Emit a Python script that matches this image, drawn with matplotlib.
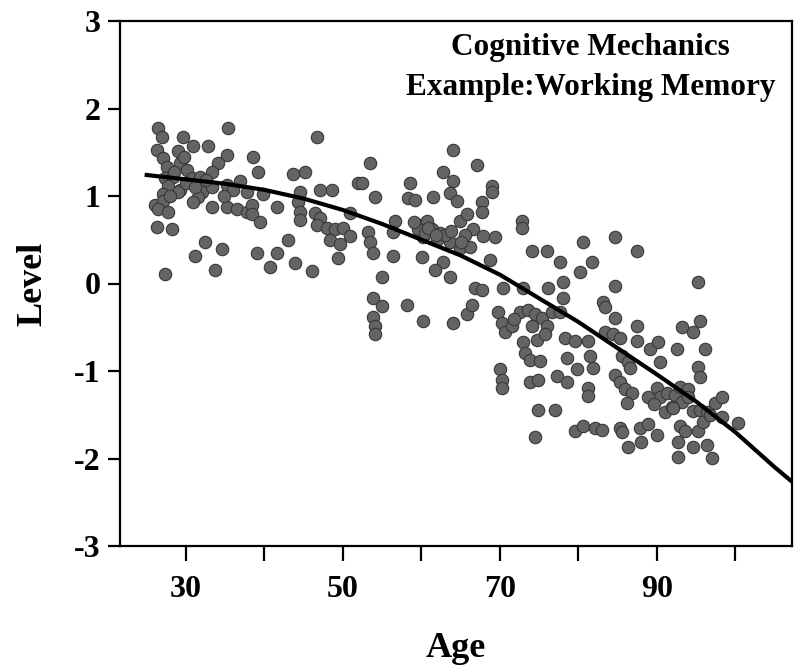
import numpy as np
import matplotlib
matplotlib.use("Agg")
from matplotlib import pyplot as plt

# scatter: age and level of each person
age = [
    26.4, 26.9, 29.6, 32.8, 35.4, 26.3, 27.1, 29.0, 30.9, 35.2, 27.6, 29.2, 30.1, 34.1, 33.3,
    27.3, 28.3, 30.8, 31.8, 35.2, 36.9, 37.8, 27.7, 29.2, 32.0, 33.3, 36.0, 27.1, 29.0, 31.5,
    26.1, 27.1, 30.9, 33.3, 35.2, 36.5, 37.8, 26.4, 27.7, 26.3, 28.2, 32.4, 34.6, 31.1, 33.7, 27.3,
    46.7, 38.5, 39.2, 43.6, 45.2, 51.9, 47.1, 48.6, 39.8, 44.5, 44.3, 38.4, 41.6, 44.5, 46.4,
    47.1, 44.5, 38.4, 50.9, 39.4, 46.7, 48.0, 49.0, 50.0, 50.9, 48.3, 49.6, 43.0, 39.0, 41.6,
    40.7, 43.9, 46.1, 49.4,
    64.0, 53.4, 67.1, 52.4, 58.5, 62.7, 64.0, 54.1, 58.3, 59.2, 61.5, 63.6, 64.5, 56.6, 56.4,
    59.8, 60.7, 61.3, 62.4, 60.2, 64.9, 65.8, 66.6, 63.6, 64.9, 66.2, 53.2, 53.4, 53.8, 56.4,
    60.1, 62.7, 61.7, 63.6, 55.0, 53.8, 55.0, 53.8, 54.1, 54.1, 58.2, 60.2, 64.0, 65.8, 66.8,
    66.4, 59.5, 60.5, 62.0, 63.0, 65.5,
    69.0, 69.0, 67.7, 67.7, 67.8, 69.4, 72.8, 72.8, 74.1, 76.0, 77.6, 80.6, 81.7, 68.7, 67.7,
    70.4, 72.9, 76.1, 78.0, 80.2, 78.0, 69.7, 70.3, 70.6, 71.5, 72.5, 73.6, 74.5, 75.4, 74.1,
    76.0, 76.6, 77.6, 72.9, 73.2, 73.8, 75.1, 74.7, 78.3, 79.6, 78.5, 79.8, 81.2, 81.5, 81.8,
    70.0, 70.3, 70.3, 73.8, 74.8, 77.3, 78.5, 81.2, 81.2, 74.8, 77.0, 74.5, 79.6, 80.6, 82.1,
    84.6, 87.5, 95.2, 84.6, 83.1, 83.4, 84.6, 87.5, 93.2, 94.6, 95.5, 83.4, 84.4, 85.3, 87.5,
    89.1, 90.1, 92.5, 96.1, 85.5, 86.3, 86.6, 90.4, 95.2, 95.5, 84.6, 85.3, 85.9, 86.8, 86.2,
    90.0, 90.4, 91.3, 92.3, 92.9, 93.9, 93.2, 91.0, 91.9, 94.6, 95.5, 96.4, 97.4, 98.3, 98.3,
    100.3, 83.0, 85.3, 85.5, 87.8, 88.8, 90.0, 88.0, 86.3, 92.9, 93.6, 95.2, 92.7, 94.6, 96.4,
    92.7, 97.0,
    28.5, 30.0, 31.2, 32.5, 29.8, 28.0, 34.8, 60.8, 61.8, 59.0, 63.8, 88.8, 89.6, 94.0, 95.8,
    96.8, 71.8, 75.8, 65.0, 92.0,
]
level = [
    1.78, 1.68, 1.68, 1.57, 1.78, 1.53, 1.44, 1.51, 1.57, 1.47, 1.33, 1.38, 1.30, 1.38, 1.28,
    1.21, 1.22, 1.21, 1.22, 1.13, 1.17, 1.05, 1.11, 1.07, 1.05, 1.10, 1.07, 1.02, 1.05, 0.99,
    0.90, 0.94, 0.93, 0.88, 0.87, 0.85, 0.82, 0.85, 0.82, 0.65, 0.62, 0.48, 0.39, 0.31, 0.16, 0.11,
    1.68, 1.45, 1.27, 1.25, 1.27, 1.15, 1.07, 1.07, 1.02, 1.05, 0.93, 0.90, 0.87, 0.82, 0.81,
    0.75, 0.73, 0.79, 0.81, 0.70, 0.67, 0.64, 0.62, 0.64, 0.54, 0.50, 0.45, 0.50, 0.35, 0.35,
    0.19, 0.24, 0.14, 0.29,
    1.53, 1.38, 1.36, 1.15, 1.15, 1.27, 1.17, 0.99, 0.98, 0.96, 0.99, 1.04, 0.94, 0.71, 0.59,
    0.67, 0.71, 0.62, 0.58, 0.53, 0.71, 0.79, 0.62, 0.47, 0.41, 0.42, 0.59, 0.47, 0.35, 0.31,
    0.30, 0.25, 0.16, 0.07, 0.07, -0.16, -0.26, -0.38, -0.49, -0.58, -0.24, -0.43, -0.45, -0.35, -0.05,
    -0.24, 0.62, 0.58, 0.50, 0.55, 0.55,
    1.11, 1.05, 0.93, 0.82, 0.54, 0.53, 0.71, 0.64, 0.37, 0.37, 0.25, 0.47, 0.25, 0.27, -0.07,
    -0.05, -0.05, -0.05, 0.02, 0.13, -0.16, -0.32, -0.45, -0.55, -0.49, -0.32, -0.30, -0.35, -0.39, -0.49,
    -0.49, -0.32, -0.33, -0.67, -0.79, -0.87, -0.89, -0.64, -0.62, -0.66, -0.85, -0.98, -0.66, -0.83, -0.96,
    -0.98, -1.10, -1.19, -1.13, -1.10, -1.06, -1.12, -1.19, -1.29, -1.44, -1.44, -1.75, -1.69, -1.63, -1.65,
    0.53, 0.37, 0.02, -0.03, -0.21, -0.27, -0.39, -0.48, -0.50, -0.55, -0.43, -0.55, -0.58, -0.62, -0.66,
    -0.75, -0.67, -0.75, -0.75, -0.83, -0.90, -0.96, -0.90, -0.95, -1.07, -1.04, -1.13, -1.21, -1.25, -1.36,
    -1.19, -1.30, -1.25, -1.27, -1.18, -1.21, -1.35, -1.47, -1.41, -1.46, -1.44, -1.47, -1.36, -1.30, -1.53,
    -1.59, -1.67, -1.65, -1.70, -1.65, -1.61, -1.73, -1.81, -1.87, -1.63, -1.69, -1.69, -1.81, -1.87, -1.84,
    -1.98, -1.99,
    1.28, 1.15, 1.10, 1.18, 1.45, 1.00, 1.00, 0.64, 0.55, 0.70, 0.60, -1.30, -1.38, -1.30, -1.58,
    -1.50, -0.40, -0.58, 0.48, -1.42,
]

# fitted age trend
curve_age = [25, 30, 35, 40, 45, 50, 55, 60, 65, 70, 75, 80, 85, 90, 95, 100, 105, 107]
curve_level = [1.24, 1.19, 1.14, 1.07, 0.97, 0.84, 0.68, 0.50, 0.32, 0.10, -0.17, -0.44,
               -0.74, -1.04, -1.35, -1.70, -2.10, -2.25]

x_major = [30, 50, 70, 90]
x_minor = [40, 60, 80, 100]
y_ticks = [-3, -2, -1, 0, 1, 2, 3]

plt.rcParams["font.family"] = ["Liberation Serif", "DejaVu Serif"]
plt.rcParams["font.weight"] = "bold"
plt.rcParams["axes.unicode_minus"] = False

fig = plt.figure(figsize=(7.94, 6.72), dpi=100)
ax = fig.add_axes([120 / 794, 126 / 672, 672 / 794, 525 / 672])

ax.scatter(age, level, s=80, color="#646464", edgecolors="#383838", linewidths=0.8, zorder=2)
ax.plot(curve_age, curve_level, color="black", linewidth=3, zorder=3)

ax.set_xlim(21.6, 107.2)
ax.set_ylim(-3, 3)
ax.set_xticks(x_major)
ax.set_xticks(x_minor, minor=True)
ax.set_yticks(y_ticks)
ax.tick_params(axis="both", which="both", direction="out", length=9, width=1.6,
               labelsize=23, pad=5)
ax.tick_params(axis="x", which="both", length=11, pad=10)
for sp in ax.spines.values():
    sp.set_linewidth(1.6)

ax.set_xlabel("Age", fontsize=26, fontweight="bold", labelpad=20)
ax.set_ylabel("Level", fontsize=26, fontweight="bold", labelpad=18)

ax.text(0.70, 0.95, "Cognitive Mechanics", transform=ax.transAxes, ha="center",
        va="center", fontsize=22.5, fontweight="bold")
ax.text(0.70, 0.874, "Example:Working Memory", transform=ax.transAxes, ha="center",
        va="center", fontsize=22.5, fontweight="bold")

fig.savefig("out.png", dpi=100)
